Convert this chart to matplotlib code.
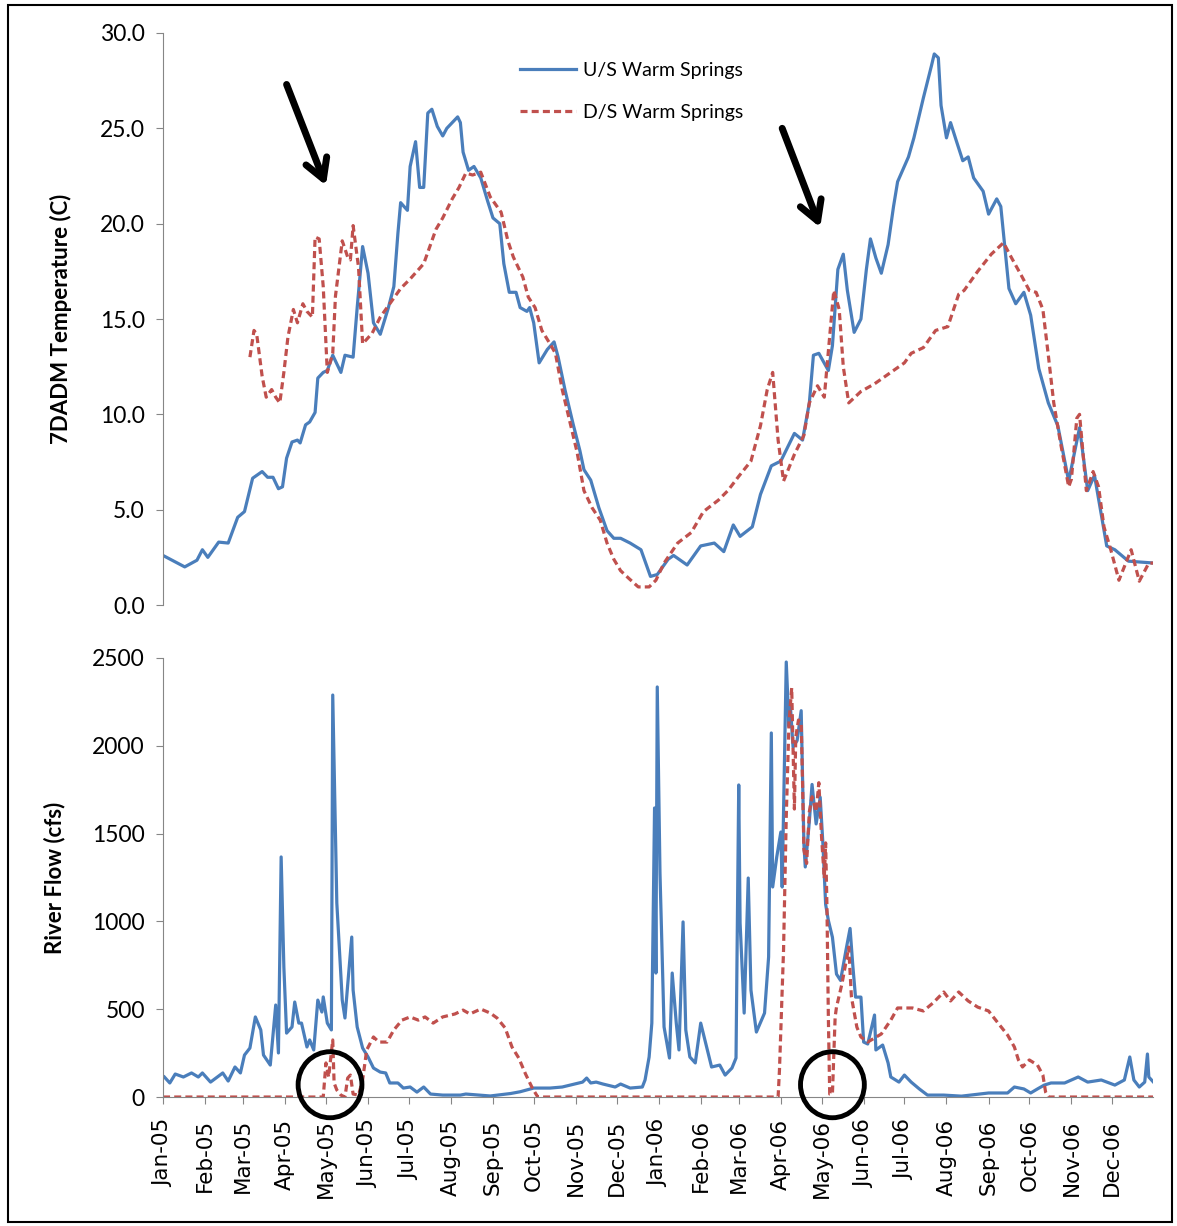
import pandas as pd
import matplotlib
matplotlib.use('Agg')
import matplotlib.pyplot as plt
import matplotlib.dates as mdates
from matplotlib.patches import Ellipse, Rectangle
from matplotlib.ticker import FormatStrFormatter

# days since 2005-01-01 and values
us_temp_days = [0, 16, 25, 29, 33, 41, 48, 55, 60, 66, 73, 77, 81, 85, 88, 91, 95, 99, 101, 105,
                108, 112, 114, 118, 121, 125, 131, 134, 140, 143, 147, 151, 155, 160, 166, 170, 173,
                175, 180, 182, 186, 189, 192, 195, 198, 202, 206, 209, 217, 219, 221, 225, 229, 234,
                239, 243, 248, 251, 255, 260, 263, 268, 270, 273, 277, 283, 288, 291, 296, 302, 307,
                310, 315, 321, 327, 332, 337, 344, 352, 354, 359, 364, 372, 376, 386, 396, 406, 413,
                420, 425, 434, 440, 448, 455, 465, 471, 476, 479, 483, 490, 493, 497, 501, 504, 509,
                514, 518, 521, 525, 529, 534, 538, 541, 549, 553, 560, 566, 568, 571, 573, 577, 580,
                584, 589, 593, 597, 604, 608, 614, 617, 623, 628, 634, 639, 645, 652, 659, 667, 675,
                681, 686, 695, 701, 711, 730]
us_temp = [2.6, 2.0, 2.35, 2.9, 2.5, 3.3, 3.25, 4.6, 4.9, 6.65, 7.0, 6.7, 6.7, 6.1, 6.2, 7.7, 8.55,
           8.65, 8.5, 9.45, 9.6, 10.1, 11.9, 12.2, 12.3, 13.1, 12.2, 13.1, 13.0, 15.6, 18.8, 17.4,
           14.8, 14.2, 15.6, 16.7, 19.5, 21.1, 20.7, 23.0, 24.3, 21.9, 21.9, 25.8, 26.0, 25.1, 24.6,
           25.0, 25.6, 25.3, 23.75, 22.8, 23.0, 22.4, 21.2, 20.3, 20.0, 17.9, 16.4, 16.4, 15.6, 15.4,
           15.6, 14.8, 12.7, 13.4, 13.8, 13.0, 11.3, 9.5, 8.1, 7.1, 6.55, 5.1, 3.9, 3.5, 3.5, 3.25,
           2.9, 2.5, 1.5, 1.6, 2.4, 2.6, 2.1, 3.1, 3.25, 2.8, 4.2, 3.6, 4.1, 5.8, 7.3, 7.55, 9.0,
           8.65, 10.6, 13.1, 13.2, 12.3, 13.6, 17.6, 18.4, 16.5, 14.3, 15.0, 17.6, 19.2, 18.2, 17.4,
           18.9, 20.9, 22.2, 23.5, 24.5, 26.6, 28.3, 28.9, 28.7, 26.2, 24.5, 25.3, 24.4, 23.3, 23.5,
           22.4, 21.7, 20.5, 21.3, 20.9, 16.6, 15.8, 16.4, 15.2, 12.4, 10.6, 9.4, 6.5, 9.3, 6.0, 6.8,
           3.1, 2.9, 2.3, 2.2]

ds_temp_days = [64, 67, 69, 73, 76, 80, 83, 86, 89, 92, 96, 99, 103, 106, 110, 112, 115, 118, 121,
                125, 127, 132, 136, 138, 140, 144, 147, 154, 160, 167, 175, 182, 192, 201, 206, 213,
                218, 223, 228, 234, 241, 249, 254, 258, 265, 269, 274, 279, 285, 289, 294, 300, 305,
                310, 316, 322, 327, 332, 337, 343, 350, 358, 363, 369, 379, 389, 398, 409, 416, 424,
                433, 440, 445, 449, 453, 457, 465, 472, 476, 482, 487, 490, 494, 498, 501, 505, 514,
                524, 534, 546, 551, 560, 569, 578, 586, 590, 600, 610, 619, 625, 632, 638, 643, 648,
                652, 656, 661, 667, 669, 673, 675, 680, 685, 689, 693, 698, 704, 713, 719, 726, 730]
ds_temp = [13.0, 14.4, 14.2, 12.0, 10.9, 11.3, 10.9, 10.6, 12.2, 14.05, 15.5, 14.8, 15.8, 15.4,
           15.1, 19.3, 19.2, 16.7, 12.2, 13.2, 16.2, 19.1, 18.25, 18.1, 19.9, 17.7, 13.7, 14.25,
           15.1, 15.8, 16.6, 17.1, 17.9, 19.7, 20.3, 21.3, 21.9, 22.65, 22.55, 22.7, 21.4, 20.6,
           19.1, 18.25, 17.2, 16.15, 15.6, 14.4, 13.7, 13.2, 11.3, 9.5, 8.0, 6.0, 5.1, 4.45, 3.25,
           2.4, 1.8, 1.4, 0.95, 0.95, 1.3, 2.2, 3.25, 3.8, 4.9, 5.5, 6.0, 6.75, 7.55, 9.4, 11.3,
           12.2, 8.65, 6.5, 7.9, 8.9, 10.6, 11.5, 10.9, 13.3, 16.5, 15.5, 12.5, 10.6, 11.2, 11.6,
           12.1, 12.7, 13.2, 13.5, 14.4, 14.6, 16.3, 16.5, 17.5, 18.4, 19.0, 18.2, 17.3, 16.5, 16.4,
           15.5, 13.1, 10.6, 8.5, 6.2, 6.6, 9.8, 10.0, 6.0, 7.0, 6.2, 4.1, 2.9, 1.3, 2.9, 1.25, 2.2,
           2.2]

us_flow_days = [1, 5, 9, 15, 21, 26, 29, 35, 40, 44, 48, 53, 57, 60, 64, 68, 72, 74, 79, 80, 83,
                85, 87, 89, 91, 95, 97, 100, 102, 106, 108, 111, 114, 117, 118, 121, 124, 125, 128,
                132, 134, 136, 139, 140, 143, 147, 151, 155, 160, 164, 167, 173, 177, 182, 187, 192,
                197, 206, 219, 223, 241, 256, 263, 273, 285, 294, 303, 309, 312, 315, 319, 324, 333,
                337, 344, 353, 355, 358, 360, 362, 363, 364, 366, 369, 373, 375, 378, 380, 383, 385,
                388, 392, 396, 400, 404, 410, 414, 419, 422, 424, 425, 428, 431, 433, 437, 443, 446,
                448, 449, 452, 455, 456, 458, 459, 461, 462, 464, 467, 470, 472, 473, 476, 478, 481,
                484, 486, 488, 490, 493, 496, 499, 503, 506, 508, 510, 514, 516, 519, 524, 525, 530,
                534, 536, 542, 546, 551, 557, 563, 575, 588, 608, 622, 627, 634, 639, 644, 649, 654,
                664, 674, 681, 691, 701, 708, 712, 715, 719, 723, 725, 726, 730]
us_flow = [114, 80, 131, 114, 137, 114, 137, 85, 114, 137, 91, 171, 137, 239, 279, 456, 382, 239,
           182, 268, 524, 251, 1367, 740, 364, 399, 541, 421, 421, 285, 325, 268, 552, 484, 570,
           421, 382, 2289, 1105, 552, 450, 638, 911, 609, 399, 279, 228, 165, 142, 137, 80, 80, 51,
           57, 28, 57, 17, 11, 11, 17, 6, 20, 30, 51, 51, 57, 74, 85, 108, 80, 85, 74, 57, 74, 51,
           57, 97, 228, 421, 1646, 706, 2335, 1276, 399, 222, 706, 421, 268, 997, 382, 228, 194,
           421, 296, 171, 182, 125, 165, 222, 1777, 991, 478, 1247, 609, 370, 478, 797, 2073, 1196,
           1367, 1509, 1196, 2073, 2477, 2110, 2230, 1993, 2030, 2200, 1440, 1310, 1570, 1780, 1555,
           1707, 1440, 1097, 1006, 910, 700, 664, 837, 960, 750, 569, 569, 313, 302, 467, 268, 296,
           194, 114, 85, 125, 85, 46, 11, 11, 5, 23, 23, 57, 46, 23, 46, 68, 80, 80, 114, 85, 97,
           68, 97, 228, 97, 57, 85, 245, 114, 80]

ds_flow_days = [0, 118, 120, 122, 125, 126, 128, 131, 134, 136, 138, 140, 144, 147, 150, 155, 159,
                165, 170, 176, 182, 188, 193, 199, 206, 215, 221, 226, 234, 241, 246, 252, 257, 262,
                267, 272, 276, 453, 454, 457, 459, 461, 463, 465, 466, 468, 470, 471, 472, 474, 476,
                478, 481, 483, 485, 487, 488, 489, 490, 491, 493, 495, 496, 500, 505, 507, 511, 514,
                519, 529, 536, 541, 552, 560, 567, 575, 580, 586, 593, 600, 608, 615, 622, 627, 630,
                633, 638, 644, 648, 650, 652, 730]
ds_flow = [0, 0, 194, 114, 325, 80, 40, 11, 0, 108, 125, 17, 11, 97, 268, 342, 313, 313, 382, 438,
           456, 438, 456, 421, 456, 473, 495, 473, 501, 478, 450, 393, 285, 222, 131, 51, 0, 0, 154,
           837, 1595, 2130, 2330, 1640, 2050, 2147, 2130, 1790, 1407, 1330, 1625, 1710, 1625, 1790,
           1480, 1245, 1447, 1070, 456, 17, 17, 456, 512, 644, 854, 569, 398, 342, 313, 359, 438,
           507, 507, 490, 535, 598, 547, 598, 547, 512, 490, 421, 353, 285, 211, 171, 211, 182, 125,
           28, 0, 0]

start = pd.Timestamp('2005-01-01')


def to_dates(days):
    return start + pd.to_timedelta(days, unit='D')


blue = '#4A7EBB'
red = '#C0504D'
gray = '#868686'
lab_font = 'Lato'

fig = plt.figure(figsize=(11.77, 12.26), dpi=100)
ax1 = fig.add_axes([0.1385, 0.5065, 0.841, 0.4666])
ax2 = fig.add_axes([0.1385, 0.1052, 0.841, 0.3581], sharex=ax1)

ax1.plot(to_dates(us_temp_days), us_temp, color=blue, lw=2.3, label='U/S Warm Springs')
ax1.plot(to_dates(ds_temp_days), ds_temp, color=red, lw=2.3, ls=(0, (2.2, 1.3)),
         label='D/S Warm Springs')
ax2.plot(to_dates(us_flow_days), us_flow, color=blue, lw=2.3)
ax2.plot(to_dates(ds_flow_days), ds_flow, color=red, lw=2.3, ls=(0, (2.2, 1.3)))

ax1.set_ylim(0, 30)
ax1.set_yticks(range(0, 31, 5))
ax1.yaxis.set_major_formatter(FormatStrFormatter('%.1f'))
ax2.set_ylim(0, 2500)
ax2.set_yticks(range(0, 2501, 500))
ax2.set_xlim(start, pd.Timestamp('2006-12-31'))

for ax in (ax1, ax2):
    for s in ('top', 'right'):
        ax.spines[s].set_visible(False)
    ax.spines['left'].set_color(gray)
    ax.spines['bottom'].set_color(gray)
    ax.tick_params(axis='y', direction='out', length=5, color=gray, labelsize=16.5, pad=8)
    for t in ax.get_yticklabels():
        t.set_fontfamily(lab_font)

ax1.spines['bottom'].set_visible(False)
ax1.tick_params(axis='x', bottom=False, labelbottom=False)

ax2.xaxis.set_major_locator(mdates.MonthLocator())
ax2.xaxis.set_major_formatter(mdates.DateFormatter('%b-%y'))
ax2.tick_params(axis='x', direction='out', length=5, color=gray, labelsize=15.5, pad=11)
for t in ax2.get_xticklabels():
    t.set_rotation(90)
    t.set_fontfamily('DejaVu Sans')

ax1.set_ylabel('7DADM Temperature (C)', fontsize=16, fontweight='bold', family=lab_font)
ax1.yaxis.set_label_coords(-0.092, 0.5)
ax2.set_ylabel('River Flow (cfs)', fontsize=16, fontweight='bold', family=lab_font)
ax2.yaxis.set_label_coords(-0.099, 0.5)

ax1.legend(loc='upper left', bbox_to_anchor=(0.343, 0.98), frameon=False, handlelength=2.9,
           handletextpad=0.35, labelspacing=1.3, prop={'family': lab_font, 'size': 14})

# arrows pointing at the spring peaks
for tail, tip in [((91, 27.3), (120, 22.0)), ((456, 25.0), (484, 19.8))]:
    ax1.annotate('', xy=(to_dates(tip[0]), tip[1]), xytext=(to_dates(tail[0]), tail[1]),
                 arrowprops=dict(arrowstyle='->,head_length=1.4,head_width=0.8', lw=5,
                                 color='black', shrinkA=0, shrinkB=0))

# circles around the D/S dry-outs
for d in (123, 493):
    c = Ellipse((mdates.date2num(to_dates(d)), 70), width=47, height=376, fill=False,
                lw=3.5, color='black', clip_on=False, zorder=5)
    ax2.add_patch(c)

fig.patches.append(Rectangle((0.007, 0.003), 0.989, 0.993, transform=fig.transFigure,
                             fill=False, lw=1.5, color='black'))

fig.savefig('out.png', dpi=100)
